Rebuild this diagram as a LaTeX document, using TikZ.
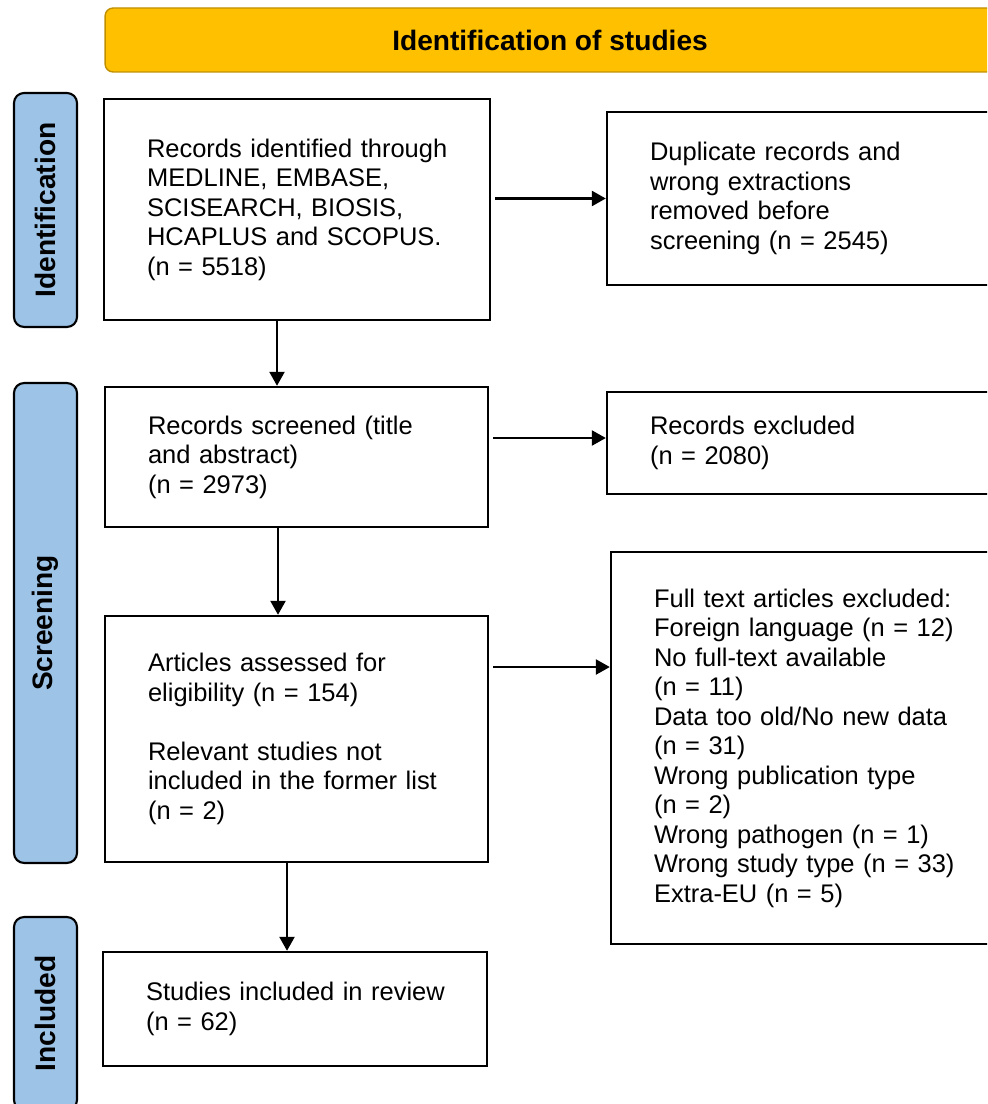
\documentclass[tikz,border=0pt]{standalone}
\usepackage{fontspec}
\setmainfont{Liberation Sans}
\usetikzlibrary{arrows.meta}
\definecolor{headgold}{HTML}{FFC000}
\definecolor{headedge}{HTML}{C09000}
\definecolor{stageblue}{HTML}{9DC3E6}
\begin{document}
\begin{tikzpicture}[x=0.02cm,y=-0.02cm,
  box/.style={draw,line width=1.4pt,fill=white,align=left,inner xsep=0.86cm,inner ysep=0pt,
    font=\fontsize{14.5}{16.8}\selectfont},
  stage/.style={draw,line width=1.2pt,fill=stageblue,rounded corners=0.2cm,rotate=90,
    minimum height=1.26cm,inner sep=0pt,font=\fontsize{16}{19}\selectfont\bfseries},
  arr/.style={line width=1.4pt,-{Triangle[length=0.28cm,width=0.3cm]}}]
  \useasboundingbox (0,0) rectangle (987,1104);
  \clip (0,0) rectangle (987,1104);

  % Header
  \node[draw=headedge,fill=headgold,line width=0.8pt,rounded corners=0.16cm,
    minimum width=17.8cm,minimum height=1.28cm,
    font=\fontsize{16}{19}\selectfont\bfseries] (head) at (550,40) {Identification of studies};

  % Stages
  \node[stage,minimum width=4.68cm] (sid) at (45.5,210) {Identification};
  \node[stage,minimum width=9.6cm] (ssc) at (45.5,623) {Screening};
  \node[stage,minimum width=3.86cm] (sin) at (45.5,1013.5) {Included};

  % Main column
  \node[box,text width=6cm,minimum height=4.42cm] (b1) at (297,209.5)
    {\mbox{Records identified through}\\MEDLINE, EMBASE,\\SCISEARCH, BIOSIS,\\HCAPLUS and SCOPUS.\\(n = 5518)};
  \node[box,text width=5.94cm,minimum height=2.8cm] (b2) at (296.5,457)
    {Records screened (title\\and abstract)\\(n = 2973)};
  \node[box,text width=5.94cm,minimum height=4.92cm] (b3) at (296.5,739)
    {Articles assessed for\\eligibility (n = 154)\\[16.8pt]Relevant studies not\\\mbox{included in the former list}\\(n = 2)};
  \node[box,text width=5.96cm,minimum height=2.28cm] (b4) at (295,1009)
    {\mbox{Studies included in review}\\(n = 62)};

  % Side column
  \node[box,text width=6.28cm,minimum height=3.46cm] (dup) at (807,198.5)
    {Duplicate records and\\wrong extractions\\removed before\\screening (n = 2545)};
  \node[box,text width=6.28cm,minimum height=2.04cm] (excl) at (807,443)
    {Records excluded\\(n = 2080)};
  \node[box,text width=6.28cm,minimum height=7.84cm] (ft) at (811,748)
    {Full text articles excluded:\\Foreign language (n = 12)\\No full-text available\\(n = 11)\\Data too old/No new data\\(n = 31)\\Wrong publication type\\(n = 2)\\Wrong pathogen (n = 1)\\Wrong study type (n = 33)\\Extra-EU (n = 5)};

  % Arrows
  \coordinate (d1) at ([xshift=-0.4cm]b1.south);
  \coordinate (d2) at ([xshift=-0.37cm]b2.south);
  \coordinate (d3) at ([xshift=-0.19cm]b3.south);
  \draw[arr] (d1) -- (d1 |- b2.north);
  \draw[arr] (d2) -- (d2 |- b3.north);
  \draw[arr] (d3) -- (d3 |- b4.north);
  \coordinate (exin) at ([yshift=0.1cm]excl.west);
  \coordinate (ftin) at ([yshift=1.62cm]ft.west);
  \draw[arr,shorten <=0.08cm] (b1.east |- dup.west) -- (dup.west);
  \draw[arr,shorten <=0.08cm] (b2.east |- exin) -- (exin);
  \draw[arr,shorten <=0.08cm] (b3.east |- ftin) -- (ftin);
\end{tikzpicture}
\end{document}
